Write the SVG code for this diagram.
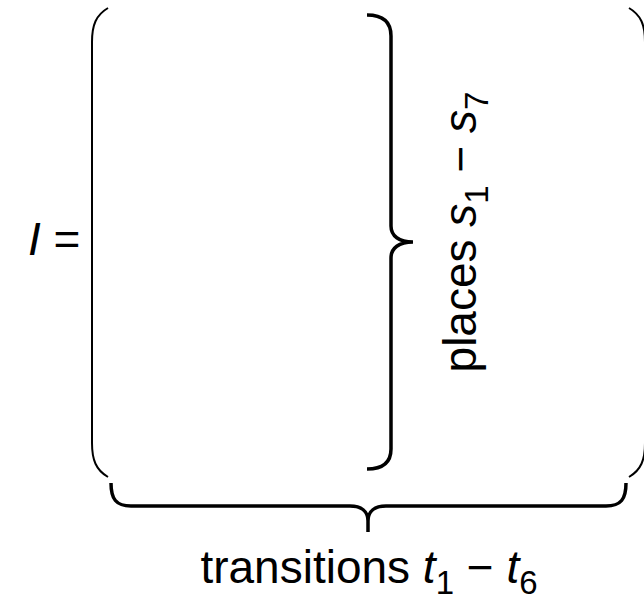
<svg xmlns="http://www.w3.org/2000/svg" width="644" height="602" viewBox="0 0 644 602">
<style>
.lbl{font-family:"Liberation Sans",Arial,sans-serif;font-size:46px;fill:#000}
.it{font-style:italic}
.sub{font-size:33px}
.thin{fill:none;stroke:#000;stroke-width:2;stroke-linecap:butt}
.thick{fill:none;stroke:#000;stroke-width:3.5;stroke-linecap:butt}
</style>
<rect width="644" height="602" fill="#fff"/>
<g id="matrix">
<path class="thin" d="M108,8 C96,15 92,25 92,42 L92,443 C92,460 96,470 108,477"/>
<path class="thin" d="M629,8 C641,15 645,25 645,42 L645,443 C645,460 641,470 629,477"/>
</g>
<g id="label-I">
<text class="lbl" x="28" y="255"><tspan class="it">I</tspan> =</text>
</g>
<g id="places-brace">
<path class="thick" d="M367,15 C382,15 391,21 391,36 L391,226 C391,236 399,242 413,242 C399,242 391,248 391,258 L391,449 C391,463 382,469 367,469"/>
<text class="lbl" font-size="48" transform="translate(476,232) rotate(-90)" text-anchor="middle">places <tspan class="it">s</tspan><tspan class="sub" dy="12">1</tspan><tspan dy="-12"> − </tspan><tspan class="it">s</tspan><tspan class="sub" dy="12">7</tspan></text>
</g>
<g id="transitions-brace">
<path class="thick" d="M111,483 C111,499 116,506 131,506 L350,506 C361,506 368,511 368,521 L368,532 M368,521 C368,511 375,506 386,506 L606,506 C621,506 626,499 626,483"/>
<text class="lbl" x="369" y="583" text-anchor="middle">transitions <tspan class="it">t</tspan><tspan class="sub" dy="11">1</tspan><tspan dy="-11"> − </tspan><tspan class="it">t</tspan><tspan class="sub" dy="11">6</tspan></text>
</g>
</svg>
